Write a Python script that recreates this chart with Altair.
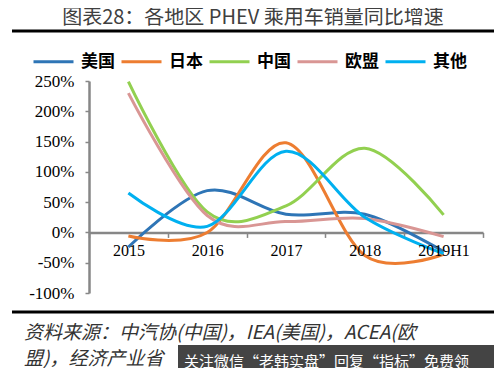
import json
import altair as alt
import pandas as pd

# ---- data ----
years = ["2015", "2016", "2017", "2018", "2019H1"]
regions = ["美国", "日本", "中国", "欧盟", "其他"]
us = [-24, 69, 30, 30, -32]
japan = [-6, 0, 148, -38, -36]
china = [249, 34, 44, 139, 29]
europe = [230, 28, 18, 23, -7]
others = [65, 10, 134, 25, -35]
colors = ["#2E75B6", "#ED7D31", "#92D050", "#D99694", "#00B0F0"]
y_ticks = [-100, -50, 0, 50, 100, 150, 200, 250]

title_text = "图表28：各地区 PHEV 乘用车销量同比增速"
source_1 = "资料来源：中汽协(中国)，IEA(美国)，ACEA(欧"
source_2 = "盟)，经济产业省"
watermark = "关注微信“老韩实盘”回复“指标”免费领"

rows = []
for name, vals in zip(regions, [us, japan, china, europe, others]):
    for i, (yr, v) in enumerate(zip(years, vals)):
        rows.append({"region": name, "year": yr, "idx": i, "value": v})
df = pd.DataFrame(rows)

W, H = 394, 212
ymin, ymax = -100, 250
zero_offset = -H * (0 - ymin) / (ymax - ymin)

xscale = alt.Scale(domain=[-0.5, len(years) - 0.5], nice=False, zero=False)
yscale = alt.Scale(domain=[ymin, ymax], nice=False, zero=False)
GRAY = "#878787"
SERIF = "Liberation Serif"

lines = alt.Chart(df).mark_line(interpolate="cardinal", strokeWidth=3).encode(
    x=alt.X("idx:Q", scale=xscale,
            axis=alt.Axis(values=[i - 0.5 for i in range(len(years) + 1)],
                          labels=False, tickSize=5, tickColor=GRAY, tickWidth=1.5,
                          domainColor=GRAY, domainWidth=2.5, offset=zero_offset,
                          title=None, grid=False, orient="bottom")),
    y=alt.Y("value:Q", scale=yscale,
            axis=alt.Axis(values=y_ticks, labelExpr="datum.value + '%'",
                          labelFont=SERIF, labelFontSize=17,
                          labelColor="black", labelPadding=11, tickSize=4,
                          labelOverlap=False,
                          tickColor=GRAY, tickWidth=1.5, domainColor=GRAY,
                          domainWidth=2.5, title=None, grid=False)),
    color=alt.Color("region:N", sort=regions,
                    scale=alt.Scale(domain=regions, range=colors),
                    legend=alt.Legend(orient="none", legendX=-57, legendY=-41,
                                      direction="horizontal", columns=5,
                                      symbolType="stroke", symbolSize=1600,
                                      symbolStrokeWidth=3, labelFont="Noto Sans CJK SC",
                                      labelFontSize=17, labelFontWeight="bold",
                                      labelColor="black", labelOffset=6,
                                      columnPadding=0, padding=0, title=None)),
)

xlabels = alt.Chart(df).mark_point(opacity=0).encode(
    x=alt.X("idx:Q", scale=xscale,
            axis=alt.Axis(values=list(range(len(years))),
                          labelExpr=f"{json.dumps(years)}[datum.value]",
                          labelFont=SERIF, labelFontSize=16,
                          labelColor="black", labelPadding=10, ticks=False,
                          domain=False, offset=zero_offset, title=None,
                          grid=False, orient="bottom", zindex=1)),
)

one = pd.DataFrame({"a": [0]})

title = alt.Chart(pd.DataFrame({"t": [title_text]})).mark_text(
    font="Noto Sans CJK SC", fontSize=20, color="#404040", align="center",
    baseline="middle").encode(text="t:N", x=alt.value(164), y=alt.value(-63))

rule_top = alt.Chart(one).mark_rule(color="black", strokeWidth=3).encode(
    x=alt.value(-77), x2=alt.value(405), y=alt.value(-50))
rule_bot = alt.Chart(one).mark_rule(color="black", strokeWidth=3).encode(
    x=alt.value(-77), x2=alt.value(405), y=alt.value(231))

src1 = alt.Chart(pd.DataFrame({"t": [source_1]})).mark_text(
    font="Noto Sans CJK SC", fontSize=19, fontStyle="italic", color="#333333",
    align="left", baseline="middle").encode(text="t:N", x=alt.value(-65), y=alt.value(252))
src2 = alt.Chart(pd.DataFrame({"t": [source_2]})).mark_text(
    font="Noto Sans CJK SC", fontSize=19, fontStyle="italic", color="#333333",
    align="left", baseline="middle").encode(text="t:N", x=alt.value(-65), y=alt.value(278))

wm_box = alt.Chart(one).mark_rect(color="#3a3a3a", opacity=0.95).encode(
    x=alt.value(89), x2=alt.value(420), y=alt.value(264), y2=alt.value(300))
wm_text = alt.Chart(pd.DataFrame({"t": [watermark]})).mark_text(
    font="Noto Sans CJK SC", fontSize=15, color="white", align="left",
    baseline="middle").encode(text="t:N", x=alt.value(95), y=alt.value(281))

chart = alt.layer(
    lines, xlabels, title, rule_top, rule_bot, src1, src2, wm_box, wm_text
).resolve_axis(x="independent").properties(
    width=W, height=H, autosize="none",
    padding={"left": 81, "top": 73, "right": 11, "bottom": 75},
    background="white",
).configure_view(stroke=None).configure_axis(labelFont=SERIF)

chart.save("out.html", embed_options={"renderer": "svg", "actions": False})
